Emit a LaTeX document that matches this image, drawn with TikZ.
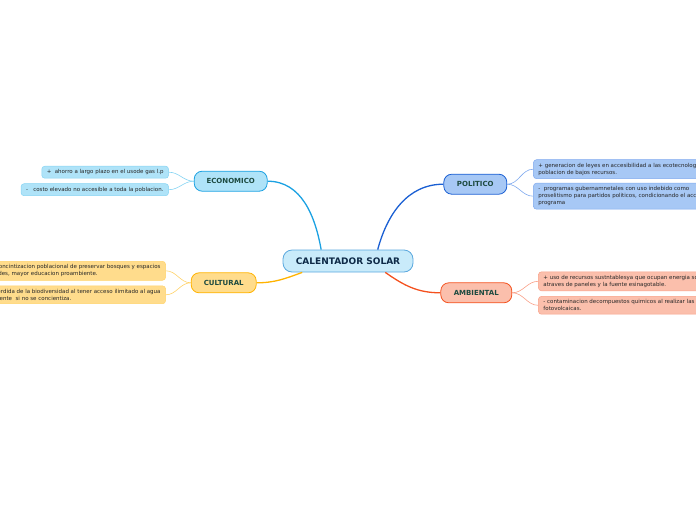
\documentclass[tikz,border=0pt]{standalone}
\usepackage{fontspec}
\setmainfont{DejaVu Sans}
\usepackage{tikz}
\usetikzlibrary{positioning}
\definecolor{rootFill}{HTML}{C9EBFA}
\definecolor{rootLine}{HTML}{5AA8DE}
\definecolor{rootText}{HTML}{0E2A47}
\definecolor{topicText}{HTML}{1D4A40}
\definecolor{leafText}{HTML}{262626}
\definecolor{ecoFill}{HTML}{AFE3F8}
\definecolor{ecoLine}{HTML}{1BA1E2}
\definecolor{ecoSoft}{HTML}{86D4F3}
\definecolor{polFill}{HTML}{A7C8F5}
\definecolor{polLine}{HTML}{1A5FD3}
\definecolor{polSoft}{HTML}{7FA9EE}
\definecolor{culFill}{HTML}{FFDC8C}
\definecolor{culLine}{HTML}{FFB300}
\definecolor{culSoft}{HTML}{FFD36A}
\definecolor{ambFill}{HTML}{FBBFAC}
\definecolor{ambLine}{HTML}{F4511E}
\definecolor{ambSoft}{HTML}{F9A088}
\tikzset{
  root/.style={draw=rootLine,fill=rootFill,rounded corners=9pt,line width=0.8pt,minimum width=130pt,minimum height=22pt,text=rootText,font=\fontsize{9}{10}\selectfont\bfseries},
  topic/.style={rounded corners=8pt,line width=0.8pt,minimum height=20pt,text=topicText,font=\fontsize{7}{8}\selectfont\bfseries},
  leaf/.style={rounded corners=3pt,line width=0.5pt,align=left,inner xsep=5pt,inner ysep=3.3pt,minimum height=12pt,text=leafText,font=\fontsize{5.5}{7}\selectfont},
  link/.style={line width=1.3pt},
  twig/.style={line width=0.6pt},
}
\begin{document}
\begin{tikzpicture}[x=1pt,y=-1pt]
\clip (0,0) rectangle (696,520);
% centre
\node[root] (solar) at (348,261) {CALENTADOR SOLAR};

% topics
\node[topic, draw=ecoLine, fill=ecoFill, minimum width=73pt, above left=58pt and 15pt of solar] (eco) {ECONOMICO};
\node[topic, draw=polLine, fill=polFill, minimum width=63pt, above right=55pt and 30pt of solar] (pol) {POLITICO};
\node[topic, draw=culLine, fill=culFill, minimum width=65pt, below left=0pt and 26pt of solar] (cul) {CULTURAL};
\node[topic, draw=ambLine, fill=ambFill, minimum width=71pt, below right=10pt and 27pt of solar] (amb) {AMBIENTAL};

\draw[link, ecoLine] (solar.157) to[out=100,in=0] (eco.east);
\draw[link, polLine] (solar.21) to[out=75,in=180] (pol.west);
\draw[link, culLine] (solar.194) to[out=200,in=0] (cul.east);
\draw[link, ambLine] (solar.343) to[out=-35,in=180] (amb.west);

% economico
\node[leaf, draw=ecoSoft, fill=ecoFill, left=25pt of eco, yshift=9pt] (eco1) {+~ ahorro a largo plazo en el usode gas l.p};
\node[leaf, draw=ecoSoft, fill=ecoFill, left=25pt of eco, yshift=-8.5pt] (eco2) {-~~ costo elevado no accesible a toda la poblacion.};
\draw[twig, ecoSoft] (eco.west) to[out=180,in=0] (eco1.east);
\draw[twig, ecoSoft] (eco.west) to[out=180,in=0] (eco2.east);

% politico
\node[leaf, draw=polSoft, fill=polFill, right=26pt of pol, yshift=15pt] (pol1) {+ generacion de leyes en accesibilidad a las ecotecnologias\\poblacion de bajos recursos.};
\node[leaf, draw=polSoft, fill=polFill, right=26pt of pol, yshift=-12pt] (pol2) {-~ programas gubernamnetales con uso indebido como\\proselitismo para partidos politicos, condicionando el acceso al\\programa};
\draw[twig, polSoft] (pol.east) to[out=0,in=180] (pol1.west);
\draw[twig, polSoft] (pol.east) to[out=0,in=180] (pol2.west);

% cultural
\node[leaf, draw=culSoft, fill=culFill, left=25pt of cul, yshift=12pt] (cul1) {+ concintizacion poblacional de preservar bosques y espacios\\verdes, mayor educacion proambiente.};
\node[leaf, draw=culSoft, fill=culFill, left=25pt of cul, yshift=-12pt] (cul2) {- perdida de la biodiversidad al tener acceso ilimitado al agua\\caliente~ si no se concientiza.};
\draw[twig, culSoft] (cul.west) to[out=180,in=0] (cul1.east);
\draw[twig, culSoft] (cul.west) to[out=180,in=0] (cul2.east);

% ambiental
\node[leaf, draw=ambSoft, fill=ambFill, right=26pt of amb, yshift=11.5pt] (amb1) {+ uso de recursos sustntablesya que ocupan energia solar\\atraves de paneles y la fuente esinagotable.};
\node[leaf, draw=ambSoft, fill=ambFill, right=26pt of amb, yshift=-12.5pt] (amb2) {- contaminacion decompuestos quimicos al realizar las celdas\\fotovolcaicas.};
\draw[twig, ambSoft] (amb.east) to[out=0,in=180] (amb1.west);
\draw[twig, ambSoft] (amb.east) to[out=0,in=180] (amb2.west);

\end{tikzpicture}
\end{document}
